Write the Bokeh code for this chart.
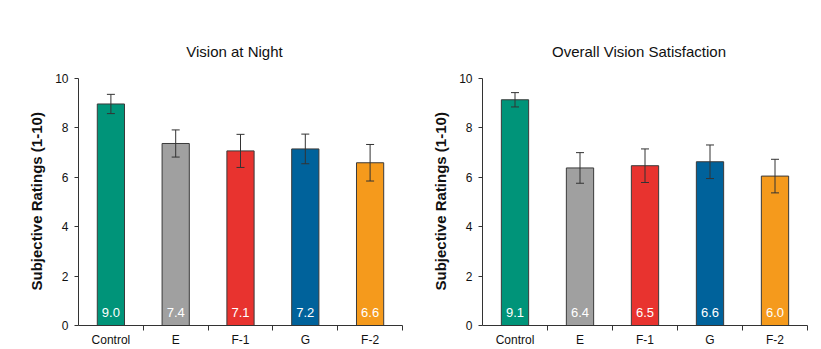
from bokeh.plotting import figure
from bokeh.models import (ColumnDataSource, Range1d, FixedTicker, Whisker, TeeHead, Title)
from bokeh.layouts import row
from bokeh.core.properties import value
from bokeh.embed import file_html
from bokeh.resources import INLINE

categories = ["Control", "E", "F-1", "G", "F-2"]
colors = ["#009479", "#A0A0A0", "#E8332F", "#00629B", "#F59A1C"]

night_title = "Vision at Night"
night_means = [8.97, 7.37, 7.07, 7.15, 6.59]
night_err = [0.39, 0.55, 0.67, 0.60, 0.74]
night_labels = ["9.0", "7.4", "7.1", "7.2", "6.6"]

sat_title = "Overall Vision Satisfaction"
sat_means = [9.14, 6.38, 6.47, 6.63, 6.05]
sat_err = [0.29, 0.62, 0.68, 0.68, 0.68]
sat_labels = ["9.1", "6.4", "6.5", "6.6", "6.0"]

y_label = "Subjective Ratings (1-10)"
y_ticks = [0, 2, 4, 6, 8, 10]
y_max = 10
FONT = "Liberation Sans"


def make_fig(title, means, errs, labels, width, left, right):
    xs = [i + 0.5 for i in range(len(categories))]
    src = ColumnDataSource(dict(
        x=xs, top=means, color=colors, label=labels, zero=[0] * len(xs),
        upper=[m + e for m, e in zip(means, errs)],
        lower=[m - e for m, e in zip(means, errs)],
    ))
    # extra head-room above the axis holds the chart title; the axis itself stops at y_max
    p = figure(width=width, height=349, output_backend="svg", toolbar_location=None,
               x_range=Range1d(0, len(categories)), y_range=Range1d(0, y_max * 1.316),
               min_border_left=left, min_border_right=right,
               min_border_top=0, min_border_bottom=22)
    p.outline_line_color = None
    p.xgrid.visible = False
    p.ygrid.visible = False
    p.background_fill_color = "white"
    p.border_fill_color = "white"

    tsrc = ColumnDataSource(dict(x=[len(categories) / 2], y=[y_max], t=[title]))
    p.text(x="x", y="y", text="t", source=tsrc, x_offset=-6, y_offset=-27,
           text_align="center", text_baseline="middle", text_font=value(FONT),
           text_font_size="15px", text_color="#111111")

    p.vbar(x="x", top="top", bottom=0, width=0.42, fill_color="color",
           line_color="#3a3a3a", line_width=1, source=src)
    w = Whisker(base="x", upper="upper", lower="lower", source=src,
                line_color="#333333", line_width=1, level="overlay",
                upper_head=TeeHead(size=8, line_color="#333333", line_width=1),
                lower_head=TeeHead(size=8, line_color="#333333", line_width=1))
    p.add_layout(w)
    p.text(x="x", y="zero", text="label", source=src, text_align="center",
           text_baseline="middle", y_offset=-13, text_color="white",
           text_font=value(FONT), text_font_size="13px")

    xa = p.xaxis[0]
    xa.ticker = FixedTicker(ticks=xs, minor_ticks=list(range(1, len(categories) + 1)))
    xa.major_label_overrides = {x: c for x, c in zip(xs, categories)}
    xa.major_tick_line_color = None
    xa.major_tick_out = 0
    xa.major_tick_in = 0
    xa.minor_tick_out = 5
    xa.minor_tick_in = 0
    xa.minor_tick_line_color = "#333333"
    xa.axis_line_color = "#333333"
    xa.major_label_text_font = FONT
    xa.major_label_text_font_size = "12px"
    xa.major_label_text_color = "#111111"
    xa.major_label_standoff = 2

    ya = p.yaxis[0]
    ya.bounds = (0, y_max)
    ya.ticker = FixedTicker(ticks=y_ticks)
    ya.minor_tick_line_color = None
    ya.major_tick_out = 4
    ya.major_tick_in = 0
    ya.major_tick_line_color = "#333333"
    ya.axis_line_color = "#333333"
    ya.major_label_text_font = FONT
    ya.major_label_text_font_size = "12px"
    ya.major_label_text_color = "#111111"
    ya.major_label_standoff = 6

    p.add_layout(Title(text=y_label, align="left", offset=35, standoff=15,
                       vertical_align="bottom", text_font=FONT, text_font_size="15px",
                       text_font_style="bold", text_color="#111111"), "left")
    return p


p1 = make_fig(night_title, night_means, night_err, night_labels, 410, 78, 8)
p2 = make_fig(sat_title, sat_means, sat_err, sat_labels, 411, 72, 14)

p = row(p1, p2)
open("out.html", "w").write(file_html(p, INLINE))
